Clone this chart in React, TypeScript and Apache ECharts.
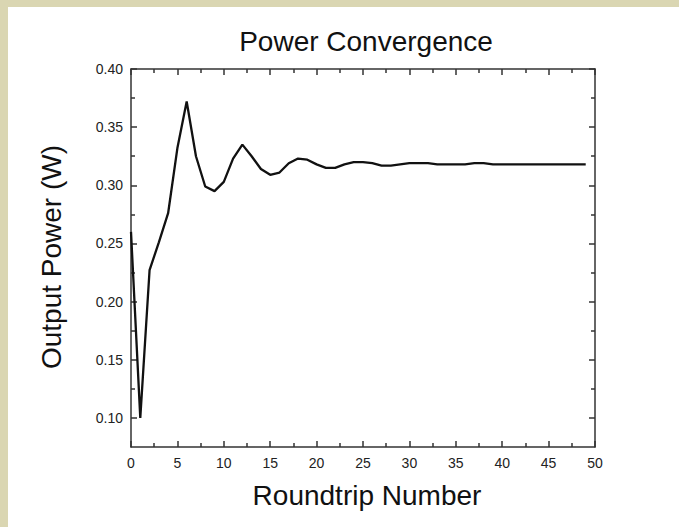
import React, { useEffect, useRef } from "react";
import * as echarts from "echarts";

const rounds: number[] = [
  0, 1, 2, 3, 4, 5, 6, 7, 8, 9,
  10, 11, 12, 13, 14, 15, 16, 17, 18, 19,
  20, 21, 22, 23, 24, 25, 26, 27, 28, 29,
  30, 31, 32, 33, 34, 35, 36, 37, 38, 39,
  40, 41, 42, 43, 44, 45, 46, 47, 48, 49,
];
const power: number[] = [
  0.26, 0.1, 0.227, 0.251, 0.276, 0.332, 0.372, 0.325, 0.299, 0.295,
  0.303, 0.323, 0.335, 0.325, 0.314, 0.309, 0.311, 0.319, 0.323, 0.322,
  0.318, 0.315, 0.315, 0.318, 0.32, 0.32, 0.319, 0.317, 0.317, 0.318,
  0.319, 0.319, 0.319, 0.318, 0.318, 0.318, 0.318, 0.319, 0.319, 0.318,
  0.318, 0.318, 0.318, 0.318, 0.318, 0.318, 0.318, 0.318, 0.318, 0.318,
];
const yMajorTicks: number[] = [0.1, 0.15, 0.2, 0.25, 0.3, 0.35, 0.4];
const yMinorTicks: number[] = [0.125, 0.175, 0.225, 0.275, 0.325, 0.375];

const titleText = "Power Convergence";
const xName = "Roundtrip Number";
const yName = "Output Power (W)";

const FONT = "'Liberation Sans', Arial, sans-serif";

export default function App() {
  const ref = useRef<HTMLDivElement>(null);
  useEffect(() => {
    if (!ref.current) return;
    const chart = echarts.init(ref.current, null, { renderer: "svg" });
    const axisLine = { show: true, onZero: false, lineStyle: { color: "#333", width: 1.5 } };
    const labelStyle = { color: "#222", fontSize: 14, fontFamily: FONT };
    const xBase = (pos: string, labels: boolean) => ({
      type: "value",
      position: pos,
      min: 0,
      max: 50,
      interval: 5,
      axisLine,
      axisTick: { show: true, inside: true, length: 6, lineStyle: { color: "#333", width: 1.5 } },
      minorTick: { show: true, splitNumber: 2, length: 4, lineStyle: { color: "#333", width: 1.5 } },
      axisLabel: { show: labels, ...labelStyle, margin: 9 },
      splitLine: { show: false },
      minorSplitLine: { show: false },
    });
    const yBase = (pos: string, ticks: number[], len: number, labels: boolean, line: boolean) => ({
      type: "value",
      position: pos,
      min: 0.075,
      max: 0.4,
      axisLine: line ? axisLine : { show: false, onZero: false },
      axisTick: {
        show: true,
        inside: true,
        length: len,
        customValues: ticks,
        lineStyle: { color: "#333", width: 1.5 },
      },
      axisLabel: {
        show: labels,
        ...labelStyle,
        margin: 8,
        customValues: yMajorTicks,
        formatter: (v: number) => v.toFixed(2),
      },
      splitLine: { show: false },
    });
    chart.setOption({
      animation: false,
      backgroundColor: "#ffffff",
      grid: { left: 131, right: 84, top: 69, bottom: 80 },
      xAxis: [xBase("bottom", true), xBase("top", false)],
      yAxis: [
        yBase("left", yMajorTicks, 6, true, true),
        yBase("right", yMajorTicks, 6, false, true),
        yBase("left", yMinorTicks, 4, false, false),
        yBase("right", yMinorTicks, 4, false, false),
      ],
      series: [
        {
          type: "line",
          xAxisIndex: 0,
          yAxisIndex: 0,
          data: rounds.map((r, i) => [r, power[i]]),
          showSymbol: false,
          lineStyle: { color: "#111", width: 2.3 },
        },
      ],
      graphic: [
        { type: "rect", shape: { x: 0, y: 0, width: 8, height: 527 }, style: { fill: "#DAD6B2" } },
        { type: "rect", shape: { x: 0, y: 0, width: 679, height: 7 }, style: { fill: "#DAD6B2" } },
        {
          type: "text",
          x: 366,
          y: 41,
          style: { text: titleText, fontSize: 28, fontFamily: FONT, fill: "#111", align: "center", verticalAlign: "middle" },
        },
        {
          type: "text",
          x: 367,
          y: 495,
          style: { text: xName, fontSize: 28, fontFamily: FONT, fill: "#111", align: "center", verticalAlign: "middle" },
        },
        {
          type: "text",
          x: 51,
          y: 257,
          rotation: Math.PI / 2,
          style: { text: yName, fontSize: 28, fontFamily: FONT, fill: "#111", align: "center", verticalAlign: "middle" },
        },
      ],
    });
    return () => chart.dispose();
  }, []);
  return (
    <div
      ref={ref}
      style={{ position: "fixed", left: 0, top: 0, width: 679, height: 527, background: "#fff" }}
    />
  );
}
